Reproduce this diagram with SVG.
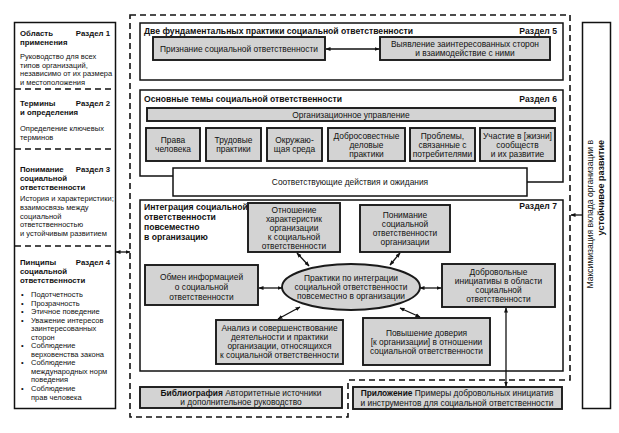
<svg xmlns="http://www.w3.org/2000/svg" width="619" height="433" viewBox="0 0 619 433">
<defs>
<marker id="ah" viewBox="0 0 10 10" refX="9" refY="5" markerWidth="5" markerHeight="5" orient="auto-start-reverse" markerUnits="userSpaceOnUse">
<path d="M0,1 L10,5 L0,9 z" fill="#111"/>
</marker>
<style>
text{font-family:"Liberation Sans",Arial,sans-serif;fill:#111}
.s{font-size:7.5px}
.h{font-size:7.8px;font-weight:bold}
.m{font-size:8.4px;text-anchor:middle}
.b{font-size:8.6px;font-weight:bold}
.sec{fill:#fff;stroke:#111;stroke-width:1.5}
.g{fill:#d3d3d3;stroke:#1a1a1a;stroke-width:1.9}
.dash{fill:none;stroke:#111;stroke-width:1.6;stroke-dasharray:6 4}
.c{fill:none;stroke:#111;stroke-width:1.3;marker-start:url(#ah);marker-end:url(#ah)}
</style>
</defs>
<rect width="619" height="433" fill="#fff"/>

<!-- main dashed outline -->
<path class="dash" d="M130,15 H570 V380 H348 V417 H130 Z"/>

<!-- left column -->
<g id="left-column">
<rect x="14.5" y="22.5" width="101" height="386" fill="#fff" stroke="#111" stroke-width="1.5"/>
<line class="dash" x1="15" y1="89" x2="115" y2="89"/>
<line class="dash" x1="15" y1="149" x2="115" y2="149"/>
<line class="dash" x1="15" y1="246" x2="115" y2="246"/>
</g>
<g id="section1">
<text class="h" x="20" y="36">Область</text>
<text class="h" x="110" y="36" text-anchor="end">Раздел 1</text>
<text class="h" x="20" y="45">применения</text>
<text class="s" x="20" y="59">Руководство для всех</text>
<text class="s" x="20" y="67.5">типов организаций,</text>
<text class="s" x="20" y="76">независимо от их размера</text>
<text class="s" x="20" y="84.5">и местоположения</text>
</g>
<g id="section2">
<text class="h" x="20" y="106">Термины</text>
<text class="h" x="110" y="106" text-anchor="end">Раздел 2</text>
<text class="h" x="20" y="115">и определения</text>
<text class="s" x="20" y="131">Определение ключевых</text>
<text class="s" x="20" y="140">терминов</text>
</g>
<g id="section3">
<text class="h" x="20" y="172">Понимание</text>
<text class="h" x="110" y="172" text-anchor="end">Раздел 3</text>
<text class="h" x="20" y="181">социальной</text>
<text class="h" x="20" y="190">ответственности</text>
<text class="s" x="20" y="201">История и характеристики;</text>
<text class="s" x="20" y="210">взаимосвязь  между</text>
<text class="s" x="20" y="218.5">социальной</text>
<text class="s" x="20" y="227">ответственностью</text>
<text class="s" x="20" y="236">и устойчивым развитием</text>
</g>
<g id="section4">
<text class="h" x="20" y="265">Пинципы</text>
<text class="h" x="110" y="265" text-anchor="end">Раздел 4</text>
<text class="h" x="20" y="274">социальной</text>
<text class="h" x="20" y="283">ответственности</text>
<g class="s">
<text x="21" y="297">•</text><text x="31" y="297">Подотчетность</text>
<text x="21" y="305.5">•</text><text x="31" y="305.5">Прозрачность</text>
<text x="21" y="314">•</text><text x="31" y="314">Этичное поведение</text>
<text x="21" y="322.5">•</text><text x="31" y="322.5">Уважение интересов</text>
<text x="31" y="331">заинтересованных</text>
<text x="31" y="339.5">сторон</text>
<text x="21" y="348">•</text><text x="31" y="348">Соблюдение</text>
<text x="31" y="356.5">верховенства закона</text>
<text x="21" y="365">•</text><text x="31" y="365">Соблюдение</text>
<text x="31" y="373.5">международных норм</text>
<text x="31" y="382">поведения</text>
<text x="21" y="391">•</text><text x="31" y="391">Соблюдение</text>
<text x="31" y="399.5">прав человека</text>
</g>
</g>

<!-- right column -->
<g id="right-column">
<rect x="582.5" y="22.5" width="28" height="386" fill="#fff" stroke="#111" stroke-width="1.5"/>
<text transform="translate(593,140) rotate(-90)" font-size="8.6" text-anchor="end">Максимизация вклада организации в</text>
<text transform="translate(604,140) rotate(-90)" font-size="9" font-weight="bold" text-anchor="end">устойчивое развитие</text>
</g>

<!-- Section 5 -->
<g id="section5">
<rect class="sec" x="140" y="23" width="423" height="57"/>
<text class="b" x="144" y="34">Две фундаментальных практики социальной ответственности</text>
<text class="b" x="557" y="34" text-anchor="end">Раздел 5</text>
</g>
<g id="n-priznanie">
<rect class="g" x="153" y="37" width="172" height="23"/>
<text class="m" x="239" y="52">Признание социальной ответственности</text>
</g>
<g id="n-vyyavlenie">
<rect class="g" x="380" y="37" width="170" height="23"/>
<text class="m" x="465" y="47">Выявление заинтересованных сторон</text>
<text class="m" x="465" y="56">и взаимодействие с ними</text>
</g>

<!-- Section 6 -->
<g id="section6">
<path d="M173,176 H140 V90 H563 V182 H527" fill="#fff" stroke="#111" stroke-width="1.5"/>
<text class="b" x="144" y="102">Основные темы социальной ответственности</text>
<text class="b" x="557" y="102" text-anchor="end">Раздел 6</text>
</g>
<g id="n-org">
<rect class="g" x="147" y="108" width="408" height="13"/>
<text class="m" x="351" y="118">Организационное управление</text>
</g>
<g id="n-prava">
<rect class="g" x="146" y="128" width="54" height="33"/>
<text class="m" x="173" y="143">Права</text>
<text class="m" x="173" y="152">человека</text>
</g>
<g id="n-trud">
<rect class="g" x="206" y="128" width="55" height="33"/>
<text class="m" x="233.5" y="143">Трудовые</text>
<text class="m" x="233.5" y="152">практики</text>
</g>
<g id="n-sreda">
<rect class="g" x="267" y="128" width="55" height="33"/>
<text class="m" x="294.5" y="143">Окружаю-</text>
<text class="m" x="294.5" y="152">щая среда</text>
</g>
<g id="n-dobro">
<rect class="g" x="328" y="128" width="77" height="33"/>
<text class="m" x="366.5" y="139">Добросовестные</text>
<text class="m" x="366.5" y="148">деловые</text>
<text class="m" x="366.5" y="157">практики</text>
</g>
<g id="n-problemy">
<rect class="g" x="410" y="128" width="65" height="33"/>
<text class="m" x="442.5" y="139">Проблемы,</text>
<text class="m" x="442.5" y="148">связанные с</text>
<text class="m" x="442.5" y="157">потребителями</text>
</g>
<g id="n-uchastie">
<rect class="g" x="480" y="128" width="75" height="33"/>
<text class="m" x="517.5" y="139">Участие в [жизни]</text>
<text class="m" x="517.5" y="148">сообществ</text>
<text class="m" x="517.5" y="157">и их развитие</text>
</g>
<g id="n-deystviya">
<rect x="173" y="168" width="354" height="28" fill="#fff" stroke="#111" stroke-width="1.5"/>
<text class="m" x="350" y="185">Соответствующие действия и ожидания</text>
</g>

<!-- Section 7 -->
<g id="section7">
<rect class="sec" x="140" y="200" width="423" height="171"/>
<text class="b" x="144" y="210">Интеграция социальной</text>
<text class="b" x="144" y="220">ответственности</text>
<text class="b" x="144" y="230">повсеместно</text>
<text class="b" x="144" y="240">в организацию</text>
<text class="b" x="557" y="209" text-anchor="end">Раздел 7</text>
</g>
<g id="n-otnoshenie">
<rect class="g" x="248" y="203" width="92" height="49"/>
<text class="m" x="294" y="213">Отношение</text>
<text class="m" x="294" y="222">характеристик</text>
<text class="m" x="294" y="231">организации</text>
<text class="m" x="294" y="240">к социальной</text>
<text class="m" x="294" y="249">ответственности</text>
</g>
<g id="n-ponimanie">
<rect class="g" x="360" y="205" width="90" height="47"/>
<text class="m" x="405" y="218">Понимание</text>
<text class="m" x="405" y="227">социальной</text>
<text class="m" x="405" y="236">ответственности</text>
<text class="m" x="405" y="245">организации</text>
</g>
<g id="n-obmen">
<rect class="g" x="145" y="265" width="113" height="40"/>
<text class="m" x="201.5" y="280">Обмен информацией</text>
<text class="m" x="201.5" y="290">о социальной</text>
<text class="m" x="201.5" y="300">ответственности</text>
</g>
<g id="n-praktiki">
<ellipse cx="351" cy="287" rx="69" ry="23" fill="#d3d3d3" stroke="#1a1a1a" stroke-width="1.9"/>
<text class="m" x="351" y="281">Практики по интеграции</text>
<text class="m" x="351" y="290">социальной ответственности</text>
<text class="m" x="351" y="299">повсеместно в организации</text>
</g>
<g id="n-dobrovolnye">
<rect class="g" x="442" y="264" width="113" height="43"/>
<text class="m" x="498.5" y="275">Добровольные</text>
<text class="m" x="498.5" y="284">инициативы в области</text>
<text class="m" x="498.5" y="293">социальной</text>
<text class="m" x="498.5" y="302">ответственности</text>
</g>
<g id="n-analiz">
<rect class="g" x="216" y="320" width="127" height="44"/>
<text class="m" x="279.5" y="331">Анализ и совершенствование</text>
<text class="m" x="279.5" y="340">деятельности и практики</text>
<text class="m" x="279.5" y="349">организации, относящихся</text>
<text class="m" x="279.5" y="358">к социальной ответственности</text>
</g>
<g id="n-doverie">
<rect class="g" x="363" y="318" width="127" height="47"/>
<text class="m" x="426.5" y="336">Повышение доверия</text>
<text class="m" x="426.5" y="345">[к организации] в отношении</text>
<text class="m" x="426.5" y="354">социальной ответственности</text>
</g>

<!-- bottom boxes -->
<g id="n-bibliografiya">
<rect class="g" x="140" y="387" width="202" height="21"/>
<text class="m" x="241" y="396"><tspan font-weight="bold">Библиография</tspan> Авторитетные источники</text>
<text class="m" x="241" y="405">и дополнительное руководство</text>
</g>
<g id="n-prilozhenie">
<rect class="g" x="353" y="387" width="209" height="22"/>
<text class="m" x="457" y="396"><tspan font-weight="bold">Приложение</tspan> Примеры добровольных инициатив</text>
<text class="m" x="457" y="405.5">и инструментов для социальной ответственности</text>
</g>

<!-- connectors -->
<g id="connectors">
<line class="c" x1="116" y1="252" x2="130" y2="252"/>
<path d="M582,215 H571" fill="none" stroke="#111" stroke-width="1.3" marker-end="url(#ah)"/>
<line class="c" x1="326" y1="49" x2="379" y2="49"/>
<line class="c" x1="297" y1="253" x2="309" y2="266"/>
<line class="c" x1="400" y1="253" x2="390" y2="265"/>
<line class="c" x1="259" y1="288" x2="282" y2="288"/>
<line class="c" x1="420" y1="288" x2="441" y2="288"/>
<line class="c" x1="278" y1="319" x2="300" y2="307"/>
<line class="c" x1="420" y1="317" x2="400" y2="308"/>
<line class="c" x1="506" y1="308" x2="506" y2="386"/>
</g>
</svg>
